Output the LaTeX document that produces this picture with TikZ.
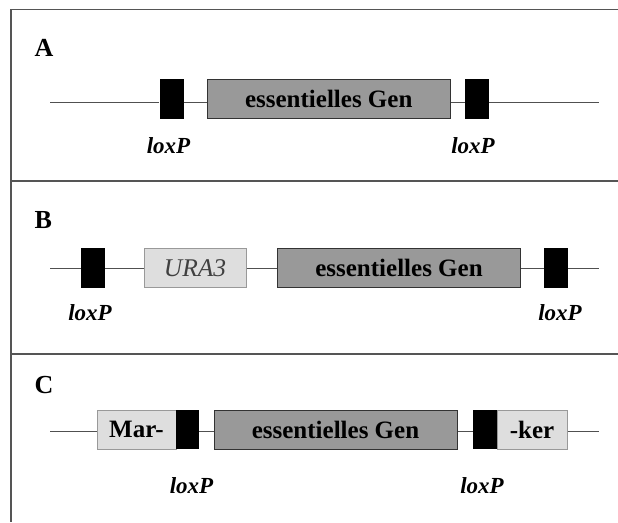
\documentclass[tikz,border=0pt]{standalone}
\usepackage{fontspec}
\setmainfont{Liberation Serif}
\definecolor{framec}{HTML}{555555}
\definecolor{linec}{HTML}{505050}
\definecolor{genefill}{HTML}{999999}
\definecolor{genedraw}{HTML}{333333}
\definecolor{markfill}{HTML}{DEDEDE}
\definecolor{markdraw}{HTML}{999999}
\definecolor{uratext}{HTML}{404040}
\tikzset{
  frameline/.style={draw=framec, line width=1.2pt},
  backbone/.style={draw=linec, line width=1pt},
  loxbox/.style={fill=black, draw=none, minimum width=24pt, minimum height=40pt, inner sep=0pt},
  genebox/.style={fill=genefill, draw=genedraw, line width=1pt, minimum width=243pt, minimum height=39pt, inner sep=0pt, font=\fontsize{25}{29}\selectfont\bfseries},
  markbox/.style={fill=markfill, draw=markdraw, line width=1pt, minimum height=39pt, inner sep=0pt, font=\fontsize{25}{29}\selectfont\bfseries},
  loxlabel/.style={anchor=base, inner sep=0pt, font=\fontsize{23}{27}\selectfont\bfseries\itshape},
  panellabel/.style={anchor=base west, inner sep=0pt, font=\fontsize{26}{30}\selectfont\bfseries}
}
\begin{document}
\begin{tikzpicture}[x=1pt,y=-1pt]
\useasboundingbox (0,0) rectangle (618,522);
% frame
\draw[frameline] (618,9.5) -- (11,9.5) -- (11,522);
\draw[frameline] (11,181) -- (618,181);
\draw[frameline] (11,354) -- (618,354);

% ---------- Panel A ----------
\node[panellabel] (labA) at (34.5,56.5) {A};
\coordinate (aL) at (50,102.5);
\coordinate (aR) at (599,102.5);
\node[loxbox] (loxA1) at (171.5,99) {};
\node[genebox] (geneA) at (328.75,98.75) {essentielles Gen};
\node[loxbox] (loxA2) at (477,99) {};
\draw[backbone] (aL) -- (aL -| loxA1.west);
\draw[backbone] (loxA1.east |- aL) -- (aL -| geneA.west);
\draw[backbone] (geneA.east |- aL) -- (aL -| loxA2.west);
\draw[backbone] (loxA2.east |- aL) -- (aR);
\node[loxlabel] (lpA1) at (168.5,153) {loxP};
\node[loxlabel] (lpA2) at (473,153) {loxP};

% ---------- Panel B ----------
\node[panellabel] (labB) at (34.5,228) {B};
\coordinate (bL) at (50,268);
\coordinate (bR) at (599,268);
\node[loxbox] (loxB1) at (93,268) {};
\node[markbox, minimum width=102pt, font=\fontsize{25.5}{29}\selectfont\itshape, text=uratext] (uraB) at (195,268) {URA3};
\node[genebox] (geneB) at (399,268) {essentielles Gen};
\node[loxbox] (loxB2) at (556,268) {};
\draw[backbone] (bL) -- (bL -| loxB1.west);
\draw[backbone] (loxB1.east |- bL) -- (bL -| uraB.west);
\draw[backbone] (uraB.east |- bL) -- (bL -| geneB.west);
\draw[backbone] (geneB.east |- bL) -- (bL -| loxB2.west);
\draw[backbone] (loxB2.east |- bL) -- (bR);
\node[loxlabel] (lpB1) at (90,320) {loxP};
\node[loxlabel] (lpB2) at (560,320.5) {loxP};

% ---------- Panel C ----------
\node[panellabel] (labC) at (34.5,393) {C};
\coordinate (cL) at (50,431);
\coordinate (cR) at (599,431);
\node[markbox, minimum width=79pt] (marC) at (136.5,429.5) {Mar-};
\node[loxbox, minimum width=23pt, minimum height=39pt] (loxC1) at (187.5,429.5) {};
\node[genebox] (geneC) at (335.5,429.5) {essentielles Gen};
\node[loxbox, minimum height=39pt] (loxC2) at (485,429.5) {};
\node[markbox, minimum width=70pt] (kerC) at (532,429.5) {-ker};
\draw[backbone] (cL) -- (cL -| marC.west);
\draw[backbone] (loxC1.east |- cL) -- (cL -| geneC.west);
\draw[backbone] (geneC.east |- cL) -- (cL -| loxC2.west);
\draw[backbone] (kerC.east |- cL) -- (cR);
\node[loxlabel] (lpC1) at (191.5,493) {loxP};
\node[loxlabel] (lpC2) at (482,493) {loxP};
\end{tikzpicture}
\end{document}
